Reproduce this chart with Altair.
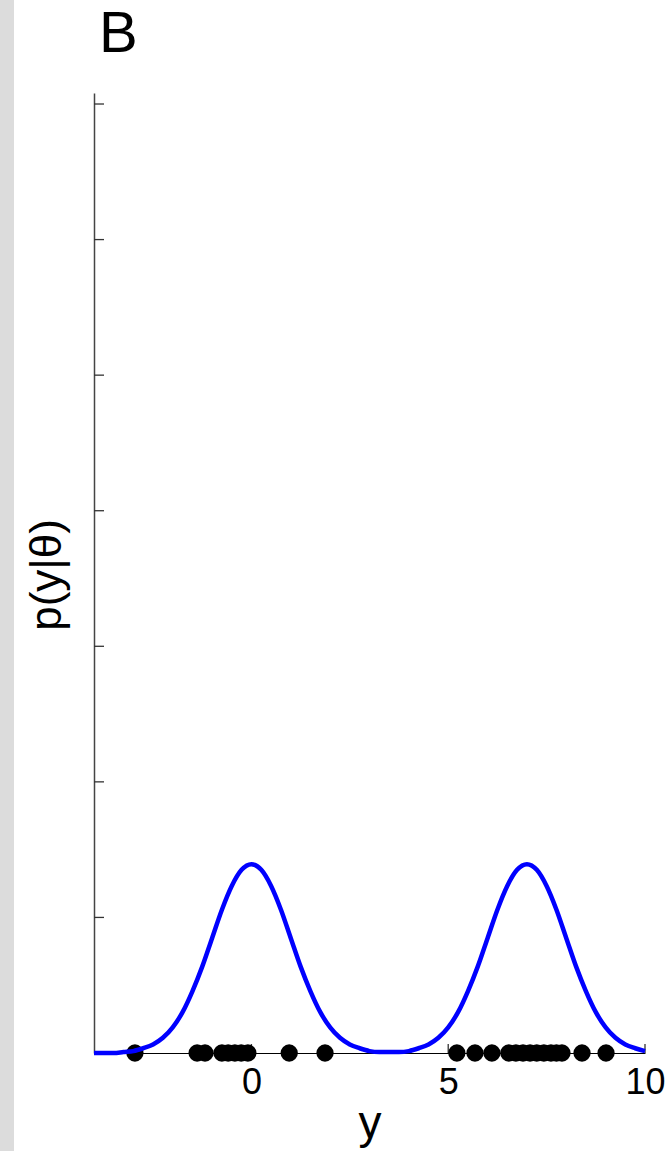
import altair as alt
import pandas as pd

# Mixture density p(y|theta) sampled on a grid of y
grid_y = [-4.0, -3.75, -3.5, -3.25, -3.0, -2.75, -2.5, -2.25, -2.0, -1.75, -1.5, -1.25,
          -1.0, -0.75, -0.5, -0.25, 0.0, 0.25, 0.5, 0.75, 1.0, 1.25, 1.5, 1.75,
          2.0, 2.25, 2.5, 2.75, 3.0, 3.25, 3.5, 3.75, 4.0, 4.25, 4.5, 4.75,
          5.0, 5.25, 5.5, 5.75, 6.0, 6.25, 6.5, 6.75, 7.0, 7.25, 7.5, 7.75,
          8.0, 8.25, 8.5, 8.75, 9.0, 9.25, 9.5, 9.75, 10.0]
density = [0.000, 0.000, 0.000, 0.001, 0.002, 0.005, 0.009, 0.016, 0.027, 0.043, 0.065, 0.091,
           0.121, 0.151, 0.176, 0.193, 0.199, 0.193, 0.176, 0.151, 0.121, 0.091, 0.065, 0.043,
           0.027, 0.016, 0.009, 0.005, 0.002, 0.001, 0.001, 0.001, 0.002, 0.005, 0.009, 0.016,
           0.027, 0.043, 0.065, 0.091, 0.121, 0.151, 0.176, 0.193, 0.199, 0.193, 0.176, 0.151,
           0.121, 0.091, 0.065, 0.043, 0.027, 0.016, 0.009, 0.005, 0.002]

# Observed samples, drawn on the baseline
observations = [-2.96, -1.38, -1.18, -0.75, -0.59, -0.42, -0.26, -0.09, 0.96, 1.87,
                5.22, 5.68, 6.11, 6.54, 6.72, 6.90, 7.08, 7.25, 7.43, 7.61, 7.75, 7.89,
                8.40, 9.01]

x_ticks = [0, 5, 10]
y_ticks = [0, 1 / 7, 2 / 7, 3 / 7, 4 / 7, 5 / 7, 6 / 7, 1.0]

W, H = 551, 960
FONT = "Liberation Sans"

xs = alt.Scale(domain=[-4, 10], nice=False, zero=False)
ys = alt.Scale(domain=[0, 1.0116], nice=False, zero=False)

x_axis = alt.Axis(values=x_ticks, title=None, ticks=False, tickSize=0, labelPadding=12,
                  labelFontSize=36, labelFont=FONT, labelColor="black",
                  domainColor="black", domainWidth=1.2, grid=False, labelFlush=False)
y_axis = alt.Axis(title=None, labels=False, ticks=False, tickSize=0, grid=False,
                  domainColor="#444444", domainWidth=1.5)

curve_df = pd.DataFrame({"y": grid_y, "p": density})
obs_df = pd.DataFrame({"y": observations, "p": [0.0] * len(observations)})
xt_df = pd.DataFrame({"y": x_ticks})
yt_df = pd.DataFrame({"p": y_ticks})

strip = alt.Chart(pd.DataFrame({"a": [0]})).mark_rect(color="#dcdcdc").encode(
    x=alt.value(-94), x2=alt.value(-80), y=alt.value(-93), y2=alt.value(H + 98)
)

# inward-pointing tick marks
ytick_rules = alt.Chart(yt_df).mark_rule(color="#333333", strokeWidth=1.3).encode(
    y=alt.Y("p:Q", scale=ys, axis=y_axis), x=alt.value(0), x2=alt.value(10)
)
xtick_rules = alt.Chart(xt_df).mark_rule(color="#333333", strokeWidth=1.3).encode(
    x=alt.X("y:Q", scale=xs, axis=x_axis), y=alt.value(H), y2=alt.value(H - 9)
)

dots = alt.Chart(obs_df).mark_circle(color="black", opacity=1, size=300).encode(
    x=alt.X("y:Q", scale=xs, axis=x_axis), y=alt.Y("p:Q", scale=ys, axis=y_axis)
)

curve = alt.Chart(curve_df).mark_line(
    color="#0000ff", strokeWidth=4.5, interpolate="monotone"
).encode(
    x=alt.X("y:Q", scale=xs, axis=x_axis),
    y=alt.Y("p:Q", scale=ys, axis=y_axis),
)

panel_label = alt.Chart(pd.DataFrame({"t": ["B"]})).mark_text(
    font=FONT, fontSize=58, align="left", baseline="alphabetic", color="black"
).encode(text="t:N", x=alt.value(5), y=alt.value(-41))

y_title = alt.Chart(pd.DataFrame({"t": ["p(y|θ)"]})).mark_text(
    font=FONT, fontSize=44, align="center", baseline="alphabetic", angle=270, color="black"
).encode(text="t:N", x=alt.value(-33), y=alt.value(482))

x_title = alt.Chart(pd.DataFrame({"t": ["y"]})).mark_text(
    font=FONT, fontSize=46, align="center", baseline="alphabetic", color="black"
).encode(text="t:N", x=alt.value(276), y=alt.value(1045))

chart = alt.layer(
    ytick_rules, xtick_rules, dots, curve, strip, panel_label, y_title, x_title
).properties(
    width=W, height=H,
    autosize=alt.AutoSizeParams(type="none"),
    padding={"left": 94, "top": 93, "right": 23, "bottom": 98},
    background="white",
).configure_view(strokeWidth=0)

chart.save("out.html", embed_options={"renderer": "svg", "actions": False})
